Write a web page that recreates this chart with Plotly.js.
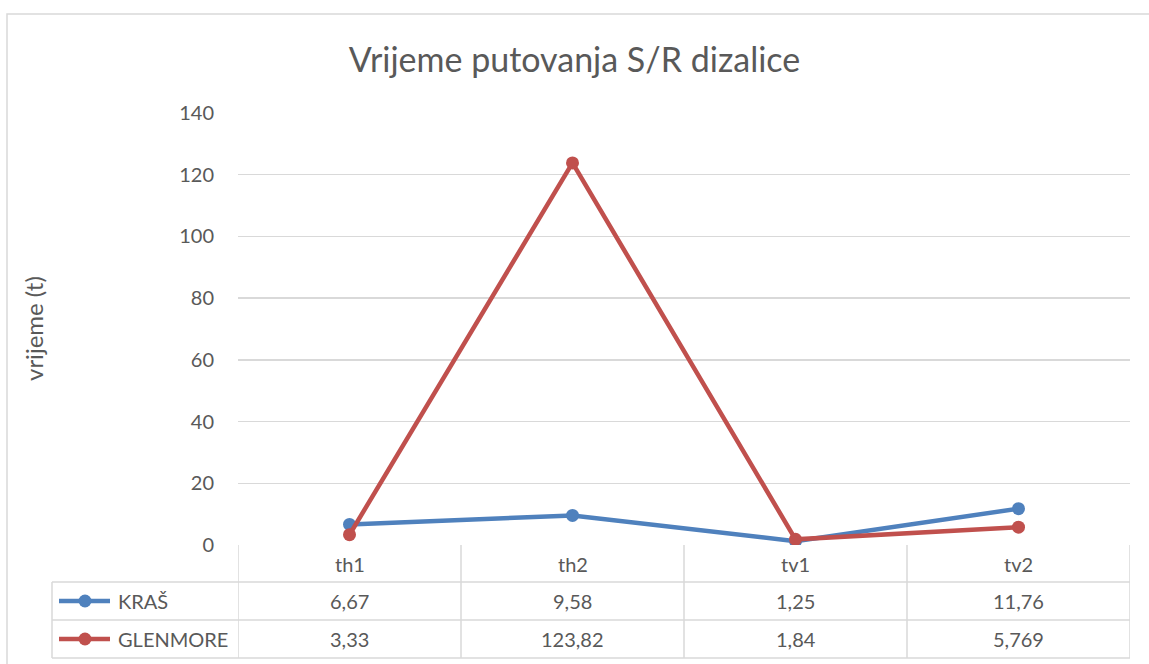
<!DOCTYPE html>
<html>
<head>
<meta charset="utf-8">
<script src="https://cdn.plot.ly/plotly-3.0.1.min.js"></script>
<style>
html,body{margin:0;padding:0;background:#fff;}
#chart{width:1149px;height:664px;}
</style>
</head>
<body>
<div id="chart"></div>
<script>
const categories = ['th1', 'th2', 'tv1', 'tv2'];
const seriesNames = ['KRAŠ', 'GLENMORE'];
const kras = [6.67, 9.58, 1.25, 11.76];
const glenmore = [3.33, 123.82, 1.84, 5.769];
const yTicks = [0, 20, 40, 60, 80, 100, 120, 140];
const colors = ['#4F81BD', '#C0504D'];

const FONT = 'Lato, "Open Sans", "Noto Sans", sans-serif';
const W = 1149, H = 664;
const L = 238, R = 1130, T = 113, B = 545;
const pw = R - L, ph = B - T;
const px = v => (v - L) / pw;       // pixel x -> paper x
const py = v => (B - v) / ph;       // pixel y -> paper y

const allSeries = [kras, glenmore];
const traces = allSeries.map((s, i) => ({
  type: 'scatter', mode: 'lines+markers',
  x: categories, y: s, name: seriesNames[i],
  line: {color: colors[i], width: 4.5},
  marker: {color: colors[i], size: 13},
  hoverinfo: 'skip', showlegend: false
}));

const gridC = '#D9D9D9';
const textC = '#595959';
const shapes = [];
const annotations = [];

// chart border
shapes.push({type: 'rect', xref: 'paper', yref: 'paper',
  x0: px(7), x1: px(W + 20), y0: py(H + 20), y1: py(14),
  line: {color: '#D9D9D9', width: 1.5}, fillcolor: 'rgba(0,0,0,0)', layer: 'below'});

// y axis title
annotations.push({xref: 'paper', yref: 'paper', x: px(33), y: py(329),
  text: 'vrijeme (t)', textangle: -90, showarrow: false,
  xanchor: 'center', yanchor: 'middle',
  font: {family: FONT, size: 24, color: textC}});

// table rows (pixel y of horizontal lines)
const rowTop = 545, rowH1 = 582, rowH2 = 620, rowH3 = 658;
const tblLeft = 52;
[rowH1, rowH2, rowH3].forEach(yv => {
  shapes.push({type: 'line', xref: 'paper', yref: 'paper',
    x0: px(tblLeft), x1: px(R), y0: py(yv), y1: py(yv),
    line: {color: gridC, width: 1.5}});
});
shapes.push({type: 'line', xref: 'paper', yref: 'paper',
  x0: px(tblLeft), x1: px(tblLeft), y0: py(rowH1), y1: py(rowH3),
  line: {color: gridC, width: 1.5}});
for (let i = 0; i <= categories.length; i++) {
  shapes.push({type: 'line', xref: 'x', yref: 'paper',
    x0: i - 0.5, x1: i - 0.5, y0: py(rowTop), y1: py(rowH3),
    line: {color: gridC, width: 1.5}});
}

// header row
categories.forEach((c, i) => {
  annotations.push({xref: 'x', yref: 'paper', x: i, y: py((rowTop + rowH1) / 2),
    text: c, showarrow: false, xanchor: 'center', yanchor: 'middle',
    font: {family: FONT, size: 20, color: textC}});
});

const fmt = v => String(v).replace('.', ',');
const rowsMid = [(rowH1 + rowH2) / 2, (rowH2 + rowH3) / 2];
allSeries.forEach((s, r) => {
  // legend key
  shapes.push({type: 'line', xref: 'paper', yref: 'paper',
    x0: px(59), x1: px(110), y0: py(rowsMid[r]), y1: py(rowsMid[r]),
    line: {color: colors[r], width: 4.5}});
  shapes.push({type: 'circle', xref: 'paper', yref: 'paper',
    x0: px(78.5), x1: px(91.5), y0: py(rowsMid[r] + 6.5), y1: py(rowsMid[r] - 6.5),
    fillcolor: colors[r], line: {color: colors[r], width: 0}});
  annotations.push({xref: 'paper', yref: 'paper', x: px(116), y: py(rowsMid[r]),
    text: seriesNames[r], showarrow: false, xanchor: 'left', yanchor: 'middle',
    font: {family: FONT, size: 20, color: textC}});
  s.forEach((v, i) => {
    annotations.push({xref: 'x', yref: 'paper', x: i, y: py(rowsMid[r]),
      text: fmt(v), showarrow: false, xanchor: 'center', yanchor: 'middle',
      font: {family: FONT, size: 20, color: textC}});
  });
});

const layout = {
  width: W, height: H,
  margin: {l: L, r: W - R, t: T, b: H - B, pad: 0},
  paper_bgcolor: '#fff', plot_bgcolor: '#fff',
  title: {text: 'Vrijeme putovanja S/R dizalice', x: 0.5, xanchor: 'center',
    y: 1 - 60 / H, yanchor: 'middle',
    font: {family: FONT, size: 34, color: textC}},
  xaxis: {type: 'category', range: [-0.5, categories.length - 0.5],
    showticklabels: false, showgrid: false, zeroline: false, showline: false,
    fixedrange: true},
  yaxis: {range: [0, 140], tickvals: yTicks, ticktext: yTicks.map(String),
    showgrid: true, gridcolor: gridC, gridwidth: 1.3, zeroline: false, showline: false,
    ticks: '', ticklen: 0, ticklabelstandoff: 23,
    tickfont: {family: FONT, size: 20, color: textC},
    fixedrange: true},
  shapes: shapes, annotations: annotations,
  showlegend: false
};

Plotly.newPlot('chart', traces, layout, {displayModeBar: false, staticPlot: true});
</script>
</body>
</html>
